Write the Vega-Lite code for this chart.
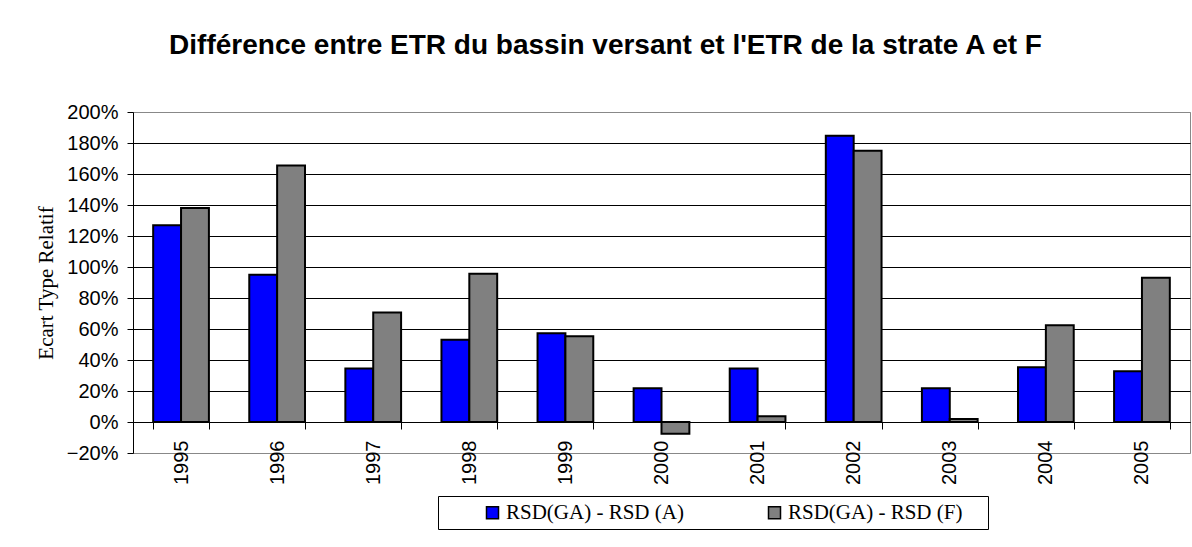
{
  "$schema": "https://vega.github.io/schema/vega-lite/v6.json",
  "width": 1057,
  "height": 341,
  "autosize": {"type": "none"},
  "padding": {"left": 133, "top": 112, "right": 2, "bottom": 94},
  "background": "white",
  "title": {
    "text": "Différence entre ETR du bassin versant et l'ETR de la strate A et F",
    "font": "Liberation Sans",
    "fontSize": 28,
    "fontWeight": "bold",
    "color": "black",
    "anchor": "middle",
    "frame": "group",
    "dx": -56,
    "offset": 42
  },
  "config": {
    "view": {"stroke": "#888888", "strokeWidth": 1}
  },
  "data": {
    "values": [
      {"year": "1995", "series": "RSD(GA) - RSD (A)", "value": 1.27},
      {"year": "1995", "series": "RSD(GA) - RSD (F)", "value": 1.38},
      {"year": "1996", "series": "RSD(GA) - RSD (A)", "value": 0.95},
      {"year": "1996", "series": "RSD(GA) - RSD (F)", "value": 1.655},
      {"year": "1997", "series": "RSD(GA) - RSD (A)", "value": 0.345},
      {"year": "1997", "series": "RSD(GA) - RSD (F)", "value": 0.707},
      {"year": "1998", "series": "RSD(GA) - RSD (A)", "value": 0.53},
      {"year": "1998", "series": "RSD(GA) - RSD (F)", "value": 0.957},
      {"year": "1999", "series": "RSD(GA) - RSD (A)", "value": 0.573},
      {"year": "1999", "series": "RSD(GA) - RSD (F)", "value": 0.554},
      {"year": "2000", "series": "RSD(GA) - RSD (A)", "value": 0.218},
      {"year": "2000", "series": "RSD(GA) - RSD (F)", "value": -0.075},
      {"year": "2001", "series": "RSD(GA) - RSD (A)", "value": 0.345},
      {"year": "2001", "series": "RSD(GA) - RSD (F)", "value": 0.037},
      {"year": "2002", "series": "RSD(GA) - RSD (A)", "value": 1.847},
      {"year": "2002", "series": "RSD(GA) - RSD (F)", "value": 1.75},
      {"year": "2003", "series": "RSD(GA) - RSD (A)", "value": 0.218},
      {"year": "2003", "series": "RSD(GA) - RSD (F)", "value": 0.02},
      {"year": "2004", "series": "RSD(GA) - RSD (A)", "value": 0.353},
      {"year": "2004", "series": "RSD(GA) - RSD (F)", "value": 0.625},
      {"year": "2005", "series": "RSD(GA) - RSD (A)", "value": 0.328},
      {"year": "2005", "series": "RSD(GA) - RSD (F)", "value": 0.931}
    ]
  },
  "mark": {"type": "bar", "stroke": "black", "strokeWidth": 2},
  "encoding": {
    "x": {
      "field": "year",
      "type": "nominal",
      "scale": {"paddingInner": 0.42, "paddingOuter": 0.21},
      "axis": {
        "title": null,
        "offset": -31,
        "labelAngle": -90,
        "labelFont": "Liberation Sans",
        "labelFontSize": 20,
        "labelColor": "black",
        "labelPadding": 11,
        "tickBand": "extent",
        "tickSize": 7,
        "tickColor": "black",
        "domainColor": "black",
        "domainWidth": 1
      }
    },
    "xOffset": {
      "field": "series",
      "type": "nominal",
      "scale": {"paddingInner": 0, "paddingOuter": 0}
    },
    "y": {
      "field": "value",
      "type": "quantitative",
      "scale": {"domain": [-0.2, 2], "nice": false, "zero": false},
      "axis": {
        "title": "Ecart Type Relatif",
        "titleFont": "Liberation Serif",
        "titleFontSize": 21,
        "titleFontWeight": "normal",
        "titleColor": "black",
        "titlePadding": 10,
        "values": [-0.2, 0, 0.2, 0.4, 0.6, 0.8, 1, 1.2, 1.4, 1.6, 1.8, 2],
        "format": ".0%",
        "labelFont": "Liberation Sans",
        "labelFontSize": 20,
        "labelColor": "black",
        "labelPadding": 9,
        "tickSize": 6,
        "tickColor": "black",
        "domainColor": "black",
        "grid": true,
        "gridColor": {"condition": {"test": "datum.value > 1.99 || datum.value < -0.19", "value": "#888888"}, "value": "black"},
        "gridWidth": 1,
        "gridOpacity": 1
      }
    },
    "color": {
      "field": "series",
      "type": "nominal",
      "scale": {"domain": ["RSD(GA) - RSD (A)", "RSD(GA) - RSD (F)"], "range": ["#0000FF", "#808080"]},
      "legend": {
        "title": " ",
        "titleOrient": "right",
        "titlePadding": 20,
        "titleFontSize": 12,
        "orient": "none",
        "legendX": 305,
        "legendY": 384,
        "direction": "horizontal",
        "strokeColor": "black",
        "padding": 6,
        "symbolType": "square",
        "symbolSize": 144,
        "symbolStrokeColor": "black",
        "symbolStrokeWidth": 1.5,
        "symbolOffset": 38,
        "labelOffset": 3,
        "labelFont": "Liberation Serif",
        "labelFontSize": 21,
        "labelColor": "black",
        "labelLimit": 300,
        "columnPadding": 42
      }
    }
  }
}
